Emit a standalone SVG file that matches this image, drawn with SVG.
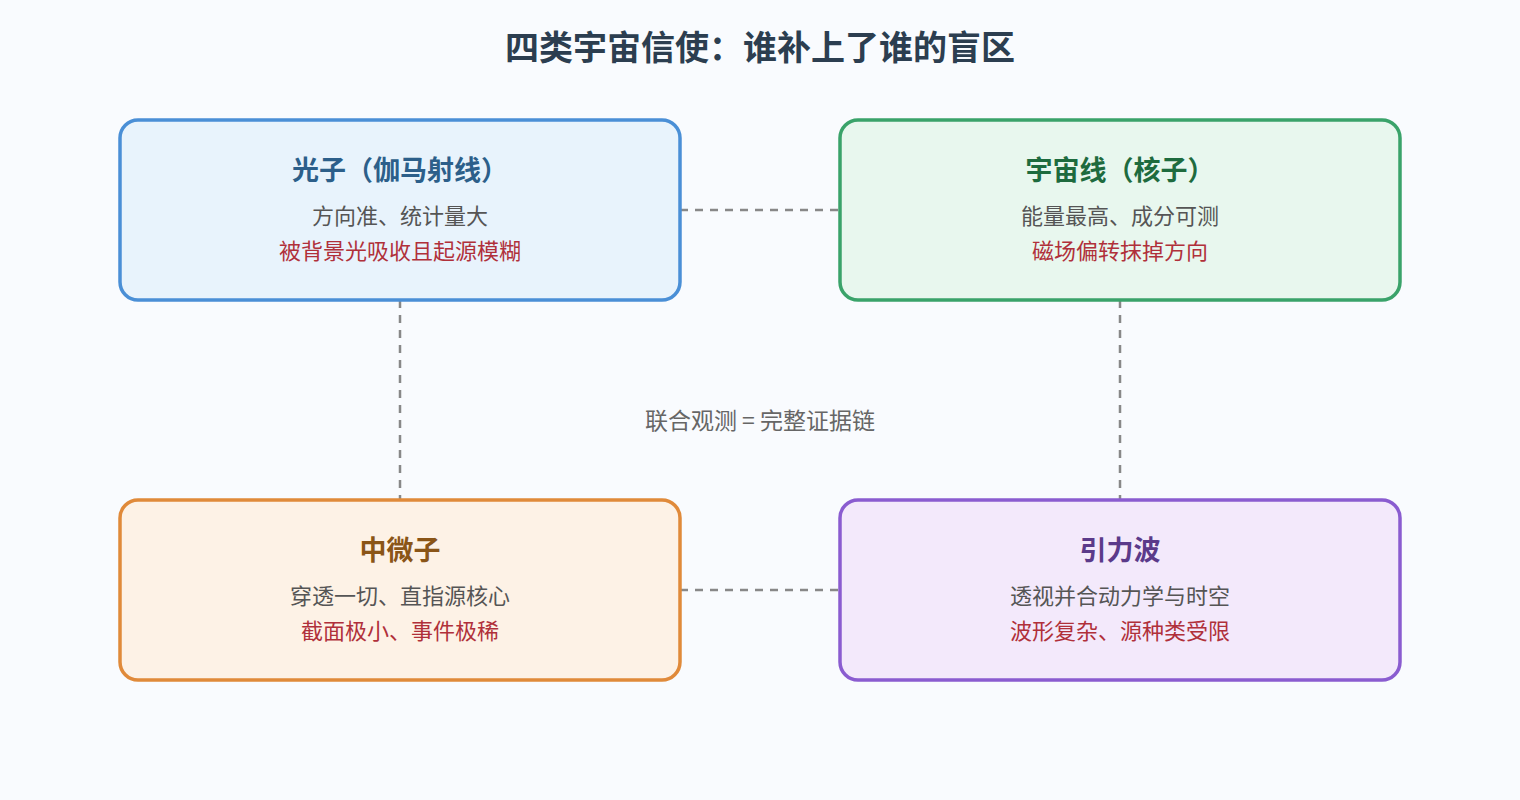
<svg xmlns="http://www.w3.org/2000/svg" width="1520" height="800" viewBox="0 0 1520 800">
<style>
text{font-family:"Noto Sans CJK SC","Liberation Sans",sans-serif;text-anchor:middle}
.t{font-size:34px;font-weight:bold;fill:#2c3e50}
.h{font-size:27px;font-weight:bold}
.d{font-size:22px;fill:#555}
.r{font-size:22px;fill:#b0303a}
.c{stroke:#888;stroke-width:2.5;stroke-dasharray:8 7;fill:none}
.b{stroke-width:3.5}
</style>
<rect width="1520" height="800" fill="#f9fbfe"/>
<text class="t" x="760" y="60">四类宇宙信使：谁补上了谁的盲区</text>
<g id="connectors">
<line class="c" x1="680" y1="210" x2="840" y2="210"/>
<line class="c" x1="680" y1="590" x2="840" y2="590"/>
<line class="c" x1="400" y1="300" x2="400" y2="500"/>
<line class="c" x1="1120" y1="300" x2="1120" y2="500"/>
</g>
<text x="760" y="429" style="font-size:23px;fill:#666">联合观测 = 完整证据链</text>
<g id="photon">
<rect class="b" x="120" y="120" width="560" height="180" rx="18" fill="#e8f3fc" stroke="#4a8fd6"/>
<text class="h" x="400" y="180" fill="#2c5f8a">光子（伽马射线）</text>
<text class="d" x="400" y="224">方向准、统计量大</text>
<text class="r" x="400" y="259">被背景光吸收且起源模糊</text>
</g>
<g id="cosmicray">
<rect class="b" x="840" y="120" width="560" height="180" rx="18" fill="#e8f7ee" stroke="#3aa36a"/>
<text class="h" x="1120" y="180" fill="#1e6b3e">宇宙线（核子）</text>
<text class="d" x="1120" y="224">能量最高、成分可测</text>
<text class="r" x="1120" y="259">磁场偏转抹掉方向</text>
</g>
<g id="neutrino">
<rect class="b" x="120" y="500" width="560" height="180" rx="18" fill="#fdf2e6" stroke="#e08a3a"/>
<text class="h" x="400" y="560" fill="#8a5517">中微子</text>
<text class="d" x="400" y="604">穿透一切、直指源核心</text>
<text class="r" x="400" y="639">截面极小、事件极稀</text>
</g>
<g id="gw">
<rect class="b" x="840" y="500" width="560" height="180" rx="18" fill="#f3e9fb" stroke="#8a5cd0"/>
<text class="h" x="1120" y="560" fill="#5b3a8a">引力波</text>
<text class="d" x="1120" y="604">透视并合动力学与时空</text>
<text class="r" x="1120" y="639">波形复杂、源种类受限</text>
</g>
</svg>
